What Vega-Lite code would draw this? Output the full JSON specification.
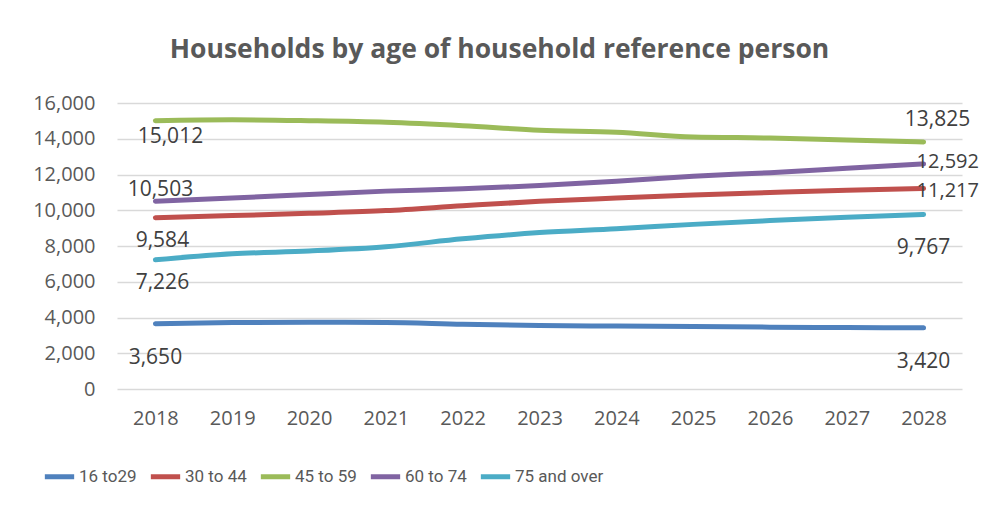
{
  "$schema": "https://vega.github.io/schema/vega-lite/v6.json",
  "autosize": {"type": "none"},
  "width": 845,
  "height": 286,
  "padding": {"left": 117, "top": 103, "right": 22, "bottom": 116},
  "background": "white",
  "config": {
    "font": "Open Sans",
    "view": {"stroke": null}
  },
  "title": {
    "text": "Households by age of household reference person",
    "fontSize": 26.5,
    "fontWeight": "bold",
    "color": "#595959",
    "font": "Open Sans",
    "anchor": "middle",
    "dx": -40,
    "offset": 30
  },
  "data": {
    "values": [
      {"year": "2018", "series": "16 to29", "value": 3650},
      {"year": "2019", "series": "16 to29", "value": 3720},
      {"year": "2020", "series": "16 to29", "value": 3740},
      {"year": "2021", "series": "16 to29", "value": 3720},
      {"year": "2022", "series": "16 to29", "value": 3620},
      {"year": "2023", "series": "16 to29", "value": 3550},
      {"year": "2024", "series": "16 to29", "value": 3520},
      {"year": "2025", "series": "16 to29", "value": 3490},
      {"year": "2026", "series": "16 to29", "value": 3460},
      {"year": "2027", "series": "16 to29", "value": 3440},
      {"year": "2028", "series": "16 to29", "value": 3420},
      {"year": "2018", "series": "30 to 44", "value": 9584},
      {"year": "2019", "series": "30 to 44", "value": 9700},
      {"year": "2020", "series": "30 to 44", "value": 9830},
      {"year": "2021", "series": "30 to 44", "value": 9980},
      {"year": "2022", "series": "30 to 44", "value": 10250},
      {"year": "2023", "series": "30 to 44", "value": 10500},
      {"year": "2024", "series": "30 to 44", "value": 10680},
      {"year": "2025", "series": "30 to 44", "value": 10850},
      {"year": "2026", "series": "30 to 44", "value": 10990},
      {"year": "2027", "series": "30 to 44", "value": 11120},
      {"year": "2028", "series": "30 to 44", "value": 11217},
      {"year": "2018", "series": "45 to 59", "value": 15012},
      {"year": "2019", "series": "45 to 59", "value": 15060},
      {"year": "2020", "series": "45 to 59", "value": 15010},
      {"year": "2021", "series": "45 to 59", "value": 14920},
      {"year": "2022", "series": "45 to 59", "value": 14730},
      {"year": "2023", "series": "45 to 59", "value": 14480},
      {"year": "2024", "series": "45 to 59", "value": 14360},
      {"year": "2025", "series": "45 to 59", "value": 14100},
      {"year": "2026", "series": "45 to 59", "value": 14040},
      {"year": "2027", "series": "45 to 59", "value": 13930},
      {"year": "2028", "series": "45 to 59", "value": 13825},
      {"year": "2018", "series": "60 to 74", "value": 10503},
      {"year": "2019", "series": "60 to 74", "value": 10680},
      {"year": "2020", "series": "60 to 74", "value": 10880},
      {"year": "2021", "series": "60 to 74", "value": 11070},
      {"year": "2022", "series": "60 to 74", "value": 11200},
      {"year": "2023", "series": "60 to 74", "value": 11380},
      {"year": "2024", "series": "60 to 74", "value": 11620},
      {"year": "2025", "series": "60 to 74", "value": 11900},
      {"year": "2026", "series": "60 to 74", "value": 12100},
      {"year": "2027", "series": "60 to 74", "value": 12350},
      {"year": "2028", "series": "60 to 74", "value": 12592},
      {"year": "2018", "series": "75 and over", "value": 7226},
      {"year": "2019", "series": "75 and over", "value": 7560},
      {"year": "2020", "series": "75 and over", "value": 7720},
      {"year": "2021", "series": "75 and over", "value": 7960},
      {"year": "2022", "series": "75 and over", "value": 8400},
      {"year": "2023", "series": "75 and over", "value": 8750},
      {"year": "2024", "series": "75 and over", "value": 8960},
      {"year": "2025", "series": "75 and over", "value": 9210},
      {"year": "2026", "series": "75 and over", "value": 9420},
      {"year": "2027", "series": "75 and over", "value": 9610},
      {"year": "2028", "series": "75 and over", "value": 9767}
    ]
  },
  "encoding": {
    "x": {
      "field": "year",
      "type": "ordinal",
      "scale": {"type": "point", "padding": 0.5},
      "axis": {
        "title": null,
        "domain": false,
        "ticks": false,
        "grid": false,
        "labelAngle": 0,
        "labelFontSize": 20,
        "labelColor": "#595959",
        "labelPadding": 19
      }
    },
    "y": {
      "field": "value",
      "type": "quantitative",
      "scale": {"domain": [0, 16000]},
      "axis": {
        "title": null,
        "values": [0, 2000, 4000, 6000, 8000, 10000, 12000, 14000, 16000],
        "format": ",.0f",
        "domain": false,
        "ticks": false,
        "gridColor": "#d9d9d9",
        "gridWidth": 1.5,
        "labelFontSize": 20,
        "labelColor": "#595959",
        "labelPadding": 22
      }
    }
  },
  "layer": [
    {
      "mark": {"type": "line", "strokeWidth": 5, "interpolate": "monotone", "strokeCap": "round"},
      "encoding": {
        "color": {
          "field": "series",
          "type": "nominal",
          "scale": {
            "domain": ["16 to29", "30 to 44", "45 to 59", "60 to 74", "75 and over"],
            "range": ["#4F81BD", "#C0504D", "#9BBB59", "#8064A2", "#4BACC6"]
          },
          "legend": {
            "title": null,
            "orient": "none",
            "direction": "horizontal",
            "legendX": -75,
            "legendY": 356,
            "symbolType": "stroke",
            "symbolSize": 860,
            "symbolStrokeWidth": 5,
            "labelFont": "Roboto",
            "labelFontSize": 17,
            "labelColor": "#595959",
            "labelOffset": 2,
            "columnPadding": 3
          }
        }
      }
    },
    {
      "transform": [{"filter": "datum.series == '45 to 59' && datum.year == '2018'"}],
      "mark": {"type": "text", "fontSize": 21, "color": "#404040", "dx": 15, "dy": 16},
      "encoding": {"text": {"field": "value", "type": "quantitative", "format": ","}}
    },
    {
      "transform": [{"filter": "datum.series == '60 to 74' && datum.year == '2018'"}],
      "mark": {"type": "text", "fontSize": 21, "color": "#404040", "dx": 5, "dy": -11},
      "encoding": {"text": {"field": "value", "type": "quantitative", "format": ","}}
    },
    {
      "transform": [{"filter": "(datum.series == '30 to 44' || datum.series == '75 and over') && datum.year == '2018'"}],
      "mark": {"type": "text", "fontSize": 21, "color": "#404040", "dx": 7, "dy": 23},
      "encoding": {"text": {"field": "value", "type": "quantitative", "format": ","}}
    },
    {
      "transform": [{"filter": "(datum.series == '16 to29' && datum.year == '2018') || ((datum.series == '16 to29' || datum.series == '75 and over') && datum.year == '2028')"}],
      "mark": {"type": "text", "fontSize": 21, "color": "#404040", "dx": 0, "dy": 34},
      "encoding": {"text": {"field": "value", "type": "quantitative", "format": ","}}
    },
    {
      "transform": [{"filter": "datum.series == '45 to 59' && datum.year == '2028'"}],
      "mark": {"type": "text", "fontSize": 21, "color": "#404040", "dx": 14, "dy": -22},
      "encoding": {"text": {"field": "value", "type": "quantitative", "format": ","}}
    },
    {
      "transform": [{"filter": "datum.series == '60 to 74' && datum.year == '2028'"}],
      "mark": {"type": "text", "fontSize": 20, "color": "#404040", "align": "left", "dx": -7, "dy": -2},
      "encoding": {"text": {"field": "value", "type": "quantitative", "format": ","}}
    },
    {
      "transform": [{"filter": "datum.series == '30 to 44' && datum.year == '2028'"}],
      "mark": {"type": "text", "fontSize": 20, "color": "#404040", "align": "left", "dx": -7, "dy": 3},
      "encoding": {"text": {"field": "value", "type": "quantitative", "format": ","}}
    }
  ]
}
